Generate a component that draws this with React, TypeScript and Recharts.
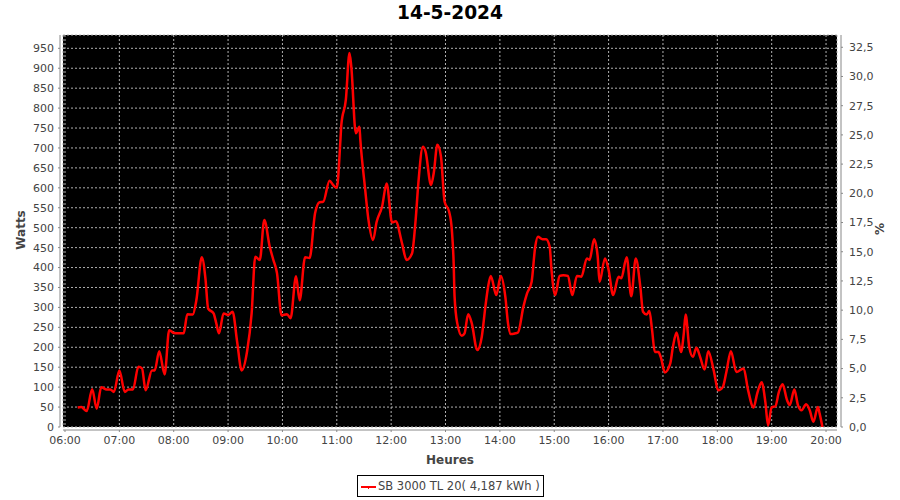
import React from 'react';
import { LineChart, Line, XAxis, YAxis, CartesianGrid, Legend } from 'recharts';

const chartTitle = '14-5-2024';
const seriesName = 'SB 3000 TL 20( 4,187 kWh )';

const times = [
  '06:14','06:18','06:24','06:30','06:35','06:40','06:46','06:50','06:54','07:00',
  '07:06','07:10','07:15','07:21','07:25','07:29','07:36','07:39','07:44','07:50',
  '07:55','08:00','08:05','08:11','08:15','08:21','08:25','08:31','08:35','08:38',
  '08:44','08:47','08:50','08:55','09:00','09:05','09:10','09:15','09:21','09:26',
  '09:30','09:35','09:40','09:46','09:50','09:54','09:59','10:05','10:09','10:15',
  '10:19','10:25','10:30','10:36','10:41','10:45','10:52','10:56','11:00','11:04',
  '11:05','11:10','11:14','11:16','11:21','11:25','11:26','11:31','11:35','11:40',
  '11:44','11:50','11:55','12:01','12:05','12:12','12:17','12:23','12:27','12:30',
  '12:35','12:38','12:44','12:47','12:51','12:55','12:59','13:04','13:07','13:09',
  '13:10','13:13','13:18','13:21','13:25','13:29','13:35','13:40','13:44','13:47',
  '13:50','13:56','14:01','14:06','14:09','14:12','14:17','14:20','14:26','14:30',
  '14:35','14:39','14:42','14:47','14:51','14:55','14:57','15:01','15:06','15:10',
  '15:15','15:20','15:25','15:30','15:36','15:39','15:44','15:48','15:50','15:56',
  '16:00','16:05','16:11','16:14','16:20','16:25','16:30','16:35','16:38','16:42',
  '16:45','16:48','16:51','16:55','16:58','17:02','17:08','17:11','17:15','17:20',
  '17:23','17:25','17:29','17:33','17:37','17:41','17:46','17:50','17:56','18:01',
  '18:06','18:10','18:15','18:21','18:29','18:34','18:40','18:44','18:49','18:53',
  '18:56','19:00','19:04','19:08','19:12','19:17','19:20','19:25','19:29','19:33',
  '19:38','19:42','19:46','19:51','19:53','19:56'
];

const watts = [
  49, 50, 40, 95, 46, 100, 94, 94, 88, 142,
  88, 94, 94, 151, 147, 92, 142, 142, 190, 132,
  243, 236, 235, 235, 283, 282, 318, 426, 373, 297,
  285, 260, 235, 285, 281, 289, 214, 142, 190, 285,
  427, 419, 519, 452, 419, 386, 280, 283, 273, 378,
  318, 426, 424, 536, 564, 565, 618, 607, 600, 720,
  758, 821, 938, 904, 737, 753, 720, 603, 519, 469,
  515, 553, 611, 513, 516, 461, 419, 435, 519, 611,
  703, 691, 607, 637, 708, 678, 565, 540, 494, 410,
  327, 260, 229, 235, 283, 260, 193, 226, 302, 352,
  379, 331, 379, 327, 260, 233, 235, 237, 302, 335,
  364, 452, 477, 471, 471, 452, 394, 331, 379, 381,
  379, 331, 379, 377, 423, 419, 471, 427, 364, 423,
  394, 331, 377, 373, 426, 328, 423, 352, 289, 282,
  291, 243, 188, 188, 172, 137, 159, 201, 237, 188,
  235, 282, 201, 176, 199, 176, 144, 190, 142, 92,
  100, 138, 190, 138, 147, 92, 49, 84, 112, 63,
  4, 50, 52, 88, 107, 67, 55, 94, 55, 42,
  57, 42, 13, 50, 33, 0
];

const hourTicks = [
  '06:00','07:00','08:00','09:00','10:00','11:00','12:00','13:00',
  '14:00','15:00','16:00','17:00','18:00','19:00','20:00'
];
const wattTicks = [0,50,100,150,200,250,300,350,400,450,500,550,600,650,700,750,800,850,900,950];
const pctTicks = [0,2.5,5,7.5,10,12.5,15,17.5,20,22.5,25,27.5,30,32.5];

const toMin = (s: string) => {
  const [h, m] = s.split(':').map(Number);
  return h * 60 + m;
};
const fmtTime = (v: number) => {
  const h = Math.floor(v / 60);
  const m = Math.round(v - h * 60);
  return `${String(h).padStart(2, '0')}:${String(m).padStart(2, '0')}`;
};

const data = times.map((t, i) => ({ t: toMin(t), w: watts[i] }));
const xTickVals = hourTicks.map(toMin);

const FONT = '"DejaVu Sans", sans-serif';
const tickStyle = { fill: '#444', fontSize: 11, fontFamily: FONT };
const axisGray = '#888';

const LegendBox = () => (
  <div
    style={{
      position: 'absolute',
      left: 357,
      top: 475,
      width: 185,
      height: 20,
      border: '1px solid #000',
      boxSizing: 'content-box',
      display: 'flex',
      alignItems: 'center',
      fontFamily: FONT,
      fontSize: 11.5,
      color: '#444',
      background: '#fff',
    }}
  >
    <svg width={20} height={20} style={{ display: 'block' }}>
      <line x1={3} y1={11} x2={18} y2={11} stroke="#ff0000" strokeWidth={2} />
      <rect x={10} y={10} width={1} height={3} fill="#ff0000" />
    </svg>
    <span style={{ whiteSpace: 'nowrap' }}>{seriesName}</span>
  </div>
);

export default function App() {
  return (
    <div style={{ position: 'absolute', left: 0, top: 0, width: 900, height: 500, background: '#fff', overflow: 'hidden' }}>
      <div
        style={{
          position: 'absolute', left: 0, top: 2, width: 900, height: 22, lineHeight: '22px',
          textAlign: 'center', fontFamily: FONT, fontWeight: 'bold', fontSize: 18.6, color: '#000',
        }}
      >
        {chartTitle}
      </div>
      <div
        style={{
          position: 'absolute', left: 21 - 50, top: 230 - 8, width: 100, height: 16, lineHeight: '16px',
          textAlign: 'center', fontFamily: FONT, fontWeight: 'bold', fontSize: 12, color: '#444',
          transform: 'rotate(-90deg)',
        }}
      >
        Watts
      </div>
      <div
        style={{
          position: 'absolute', left: 880 - 50, top: 229 - 8, width: 100, height: 16, lineHeight: '16px',
          textAlign: 'center', fontFamily: FONT, fontWeight: 'bold', fontSize: 12, color: '#444',
          transform: 'rotate(-90deg)',
        }}
      >
        %
      </div>
      <div
        style={{
          position: 'absolute', left: 0, top: 452, width: 900, height: 16, lineHeight: '16px',
          textAlign: 'center', fontFamily: FONT, fontWeight: 'bold', fontSize: 12, color: '#444',
        }}
      >
        Heures
      </div>
      <LineChart
        width={900}
        height={500}
        data={data}
        margin={{ top: 35, right: 0, bottom: 0, left: 0 }}
      >
        <CartesianGrid
          xAxisId="x"
          yAxisId="left"
          fill="#000"
          fillOpacity={1}
          stroke="#b0b0b0"
          strokeDasharray="2 2"
          strokeWidth={1}
        />
        <XAxis
          xAxisId="x"
          dataKey="t"
          type="number"
          domain={[357.8, 1212.1]}
          allowDataOverflow
          ticks={xTickVals}
          tickFormatter={fmtTime}
          height={73}
          tick={tickStyle}
          tickSize={2}
          tickMargin={7}
          axisLine={{ stroke: axisGray, transform: 'translate(0,3)' }}
          tickLine={{ stroke: axisGray, transform: 'translate(0,3)' }}
          interval={0}
        />
        <YAxis
          yAxisId="left"
          orientation="left"
          type="number"
          domain={[0, 983.4]}
          allowDataOverflow
          ticks={wattTicks}
          width={63}
          tick={tickStyle}
          tickSize={2}
          tickMargin={7}
          axisLine={{ stroke: axisGray, transform: 'translate(-3,0)' }}
          tickLine={{ stroke: axisGray, transform: 'translate(-3,0)' }}
          interval={0}
        />
        <YAxis
          yAxisId="right"
          orientation="right"
          type="number"
          domain={[0, 33.55]}
          allowDataOverflow
          ticks={pctTicks}
          tickFormatter={(v: number) => v.toFixed(1).replace('.', ',')}
          width={63}
          tick={tickStyle}
          tickSize={2}
          tickMargin={10}
          axisLine={{ stroke: axisGray, transform: 'translate(4,0)' }}
          tickLine={{ stroke: axisGray, transform: 'translate(4,0)' }}
          interval={0}
        />
        <Legend content={() => <LegendBox />} wrapperStyle={{ position: 'absolute', left: 0, top: 0, width: 0, height: 0 }} />
        <Line
          xAxisId="x"
          yAxisId="left"
          type="monotone"
          dataKey="w"
          name={seriesName}
          stroke="#ff0000"
          strokeWidth={2.5}
          dot={false}
          isAnimationActive={false}
        />
      </LineChart>
    </div>
  );
}
